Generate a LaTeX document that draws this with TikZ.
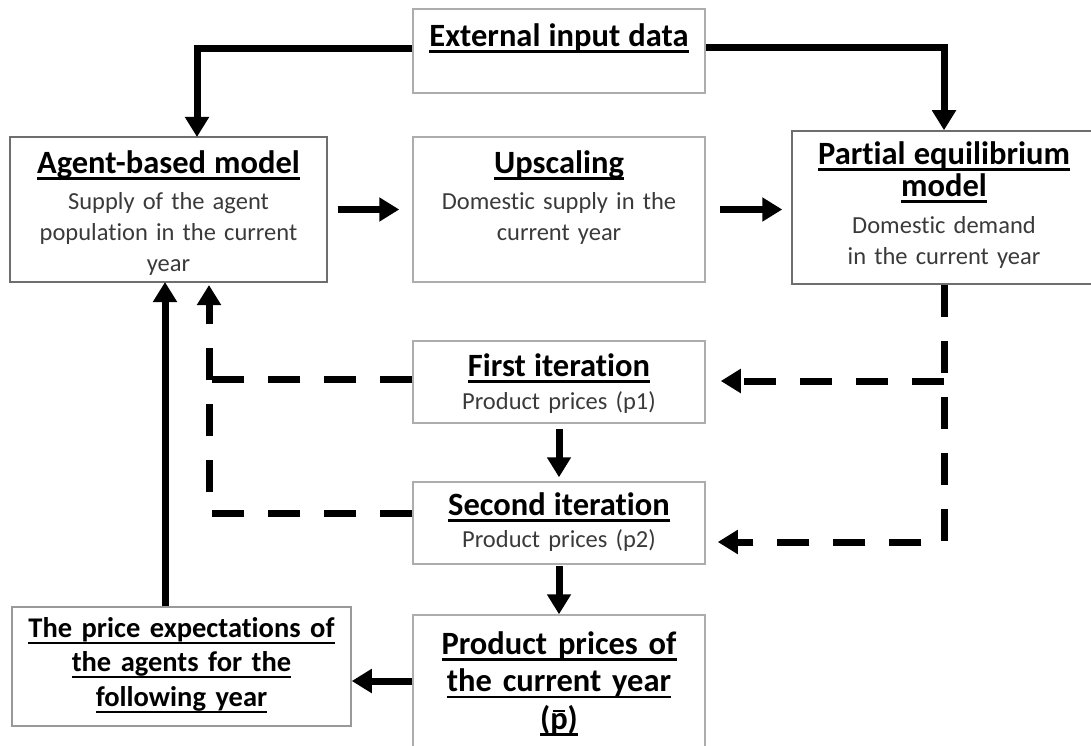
\documentclass[tikz,border=0pt]{standalone}
\usepackage{fontspec}
\setmainfont{Carlito}[Ligatures=NoCommon]
\usetikzlibrary{arrows.meta,positioning}
\definecolor{framedark}{HTML}{6E6E6E}
\definecolor{framemid}{HTML}{999999}
\definecolor{framelight}{HTML}{ADADAD}
\definecolor{bodygray}{HTML}{3A3A3A}
% underline and bar over a letter
\newcommand\uln[1]{\leavevmode\setbox0=\hbox{#1}\rlap{\rule[-6.5pt]{\wd0}{2.4pt}}\box0}
\newcommand\ovl[1]{\leavevmode\setbox2=\hbox{#1}\rlap{\kern0.15\wd2\rule[17pt]{0.7\wd2}{2.2pt}}\box2}
\newcommand\ttl{\fontsize{32.5}{35}\selectfont\bfseries\color{black}}
\newcommand\ttlsmall{\fontsize{28.5}{34.5}\selectfont\bfseries\color{black}}
\newcommand\bdy{\fontsize{24.5}{31}\selectfont\mdseries\color{bodygray}}
\tikzset{
  panel/.style={draw=framelight,line width=1.5pt,inner sep=0pt},
  darkpanel/.style={panel,draw=framedark},
  txt/.style={inner sep=0pt,align=center,font=\bdy},
  flow/.style={line width=7pt,-{Triangle[width=23pt,length=20pt]}},
  iterflow/.style={flow,dash pattern=on 32pt off 24pt}
}
\begin{document}
\begin{tikzpicture}[x=1pt,y=-1pt]
\useasboundingbox (0,0) rectangle (1091,746);
\clip (0,0) rectangle (1091,746);
% boxes
\node[panel,minimum width=292pt,minimum height=84pt] (ext) at (559,51) {};
\node[darkpanel,minimum width=317pt,minimum height=145pt] (abm) at (168.5,209.5) {};
\node[panel,minimum width=292pt,minimum height=145pt] (up) at (559,209.5) {};
\node[darkpanel,minimum width=304pt,minimum height=153pt] (pe) at (944,207.5) {};
\node[panel,minimum width=292pt,minimum height=82pt] (first) at (559,382) {};
\node[panel,minimum width=292pt,minimum height=82pt] (second) at (559,523) {};
\node[panel,minimum width=292pt,minimum height=160pt] (prod) at (559,695) {};
\node[panel,draw=framemid,minimum width=339pt,minimum height=119pt] (exp) at (181.5,666.5) {};
% texts
\node[txt,text width=290pt,below=15pt of ext.north] (ext-txt) {{\ttl\uln{External input data}}};
\node[txt,text width=310pt,below=14pt of abm.north] (abm-txt) {{\ttl\uln{Agent-based model}}\\[5pt] Supply of the agent\\ population in the current\\ year};
\node[txt,text width=290pt,below=14pt of up.north] (up-txt) {{\ttl\uln{Upscaling}}\\[5pt] Domestic supply in the\\ current year};
\node[txt,text width=300pt,below=11pt of pe.north] (pe-txt) {{\ttl\uln{Partial equilibrium}\\[1pt] \uln{model}}\\[6pt] Domestic demand\\ in the current year};
\node[txt,text width=290pt,below=13pt of first.north] (first-txt) {{\ttl\uln{First iteration}}\\[2pt] Product prices (p1)};
\node[txt,text width=290pt,below=11pt of second.north] (second-txt) {{\ttl\uln{Second iteration}}\\[1pt] Product prices (p2)};
\node[txt,text width=290pt,font=\ttl,below=17pt of prod.north] (prod-txt) {\uln{Product prices of}\\[2.5pt] \uln{the current year}\\[2.5pt] \uln{(\ovl{p})}};
\node[txt,text width=335pt,font=\ttlsmall,below=11pt of exp.north] (exp-txt) {\uln{The price expectations of}\\ \uln{the agents for the}\\ \uln{following year}};
% ends on the agent-based model box
\coordinate (abm-top) at (197,137);
\coordinate (abm-in1) at (165,282);
\coordinate (abm-in2) at (209,282);
% solid flows
\draw[flow] ([yshift=2pt]ext.west) -| (abm-top);
\draw[flow] ([yshift=3pt]ext.east) -| (pe.north);
\draw[flow,shorten <=10pt,shorten >=13pt] (abm) -- (up);
\draw[flow,shorten <=14pt,shorten >=9pt] (up.east) -- (up.east -| pe.west);
\draw[flow,shorten <=5pt,shorten >=4pt] (first) -- (second);
\draw[flow,shorten <=1pt] (second) -- (prod);
\draw[flow] (prod.west |- 0,681) -- (exp.east |- 0,681);
\draw[flow] (exp.north -| abm-in1) -- (abm-in1);
% iterations, dashed
\draw[iterflow,shorten >=12pt] (pe.south) |- (second.east |- 0,542);
\draw[iterflow,shorten >=15pt] (pe.south |- 0,381) -- (first.east |- 0,381);
\draw[iterflow,shorten >=3pt] (second.west |- 0,513) -| (abm-in2);
\draw[iterflow,-] (first.west |- 0,379) -- (abm-in2 |- 0,379);
\end{tikzpicture}
\end{document}
